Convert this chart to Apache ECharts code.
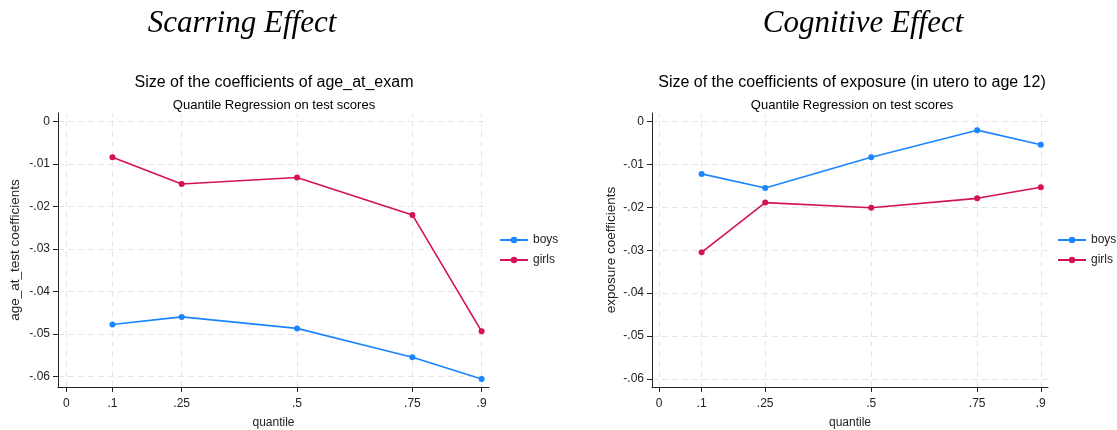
<!DOCTYPE html>
<html>
<head>
<meta charset="utf-8">
<title>Scarring and cognitive effects</title>
<script src="https://cdn.jsdelivr.net/npm/echarts@6/dist/echarts.min.js"></script>
<style>
  html, body { margin: 0; padding: 0; background: #fff; }
  #chart { width: 1117px; height: 430px; }
</style>
</head>
<body>
<div id="chart"></div>
<script>
// quantiles on the x axis
const quantiles = [0.1, 0.25, 0.5, 0.75, 0.9]

// coefficients of age_at_exam (left panel)
const scarBoys = [-0.0478, -0.0460, -0.0487, -0.0555, -0.0606]
const scarGirls = [-0.0084, -0.0147, -0.0132, -0.0220, -0.0494]

// coefficients of exposure (right panel)
const cogBoys = [-0.0122, -0.0155, -0.0083, -0.0020, -0.0054]
const cogGirls = [-0.0305, -0.0189, -0.0201, -0.0179, -0.0153]

// tick labels
const xTicks = [0, 0.1, 0.25, 0.5, 0.75, 0.9]
const yTicks = [0, -0.01, -0.02, -0.03, -0.04, -0.05, -0.06]

const BOYS = '#1a85ff'
const GIRLS = '#d41159'
const FONT = 'Liberation Sans, Arial, sans-serif'
const INK = '#222'

const chart = echarts.init(document.getElementById('chart'), null, { renderer: 'canvas' })

// stata style numbers: .25, -.01, 0
function stataNum (v) {
  return v === 0 ? '0' : String(v).replace('0.', '.')
}

function pairs (ys) {
  return quantiles.map((q, i) => [q, ys[i]])
}

function xAxisFor (idx, min, max) {
  return {
    type: 'value',
    gridIndex: idx,
    min: min,
    max: max,
    name: 'quantile',
    nameLocation: 'middle',
    nameGap: 30,
    nameTextStyle: { fontFamily: FONT, fontSize: 12, color: INK },
    axisLine: { onZero: false, lineStyle: { color: INK, width: 1 } },
    axisTick: { show: true, length: 5, customValues: xTicks, lineStyle: { color: INK } },
    axisLabel: { customValues: xTicks, formatter: stataNum, margin: 11, fontFamily: FONT, fontSize: 12, color: INK },
    splitLine: { show: false }
  }
}

function yAxisFor (idx, min, max, name, gap) {
  return {
    type: 'value',
    gridIndex: idx,
    min: min,
    max: max,
    name: name,
    nameLocation: 'middle',
    nameGap: gap,
    nameTextStyle: { fontFamily: FONT, fontSize: 13.5, color: INK },
    axisLine: { show: true, onZero: false, lineStyle: { color: INK, width: 1 } },
    axisTick: { show: true, length: 5, customValues: yTicks, lineStyle: { color: INK } },
    axisLabel: { customValues: yTicks, formatter: stataNum, margin: 8, fontFamily: FONT, fontSize: 12, color: INK },
    splitLine: { show: false }
  }
}

// dashed grid lines at the tick positions, drawn under the data
function gridSeries (idx) {
  return {
    name: 'gridlines',
    type: 'line',
    xAxisIndex: idx,
    yAxisIndex: idx,
    data: [],
    z: 0,
    silent: true,
    markLine: {
      z: 0,
      silent: true,
      symbol: ['none', 'none'],
      label: { show: false },
      lineStyle: { type: [6, 4], color: '#e6e6e6', width: 1 },
      data: xTicks.map(v => ({ xAxis: v })).concat(yTicks.map(v => ({ yAxis: v })))
    }
  }
}

function lineSeries (idx, name, ys, color) {
  return {
    name: name,
    type: 'line',
    xAxisIndex: idx,
    yAxisIndex: idx,
    data: pairs(ys),
    z: 10,
    symbol: 'circle',
    symbolSize: 6,
    lineStyle: { color: color, width: 1.6 },
    itemStyle: { color: color, borderWidth: 0 }
  }
}

function legendAt (left) {
  return {
    data: ['boys', 'girls'],
    orient: 'vertical',
    left: left,
    top: 234,
    padding: 0,
    itemWidth: 28,
    itemHeight: 8,
    itemGap: 8,
    textStyle: { fontFamily: FONT, fontSize: 12, color: INK }
  }
}

function label (text, x, y, size, serif) {
  return {
    type: 'text',
    x: x,
    y: y,
    silent: true,
    style: {
      text: text,
      textAlign: 'center',
      textVerticalAlign: 'middle',
      font: (serif ? 'italic ' : '') + size + 'px ' + (serif ? '"Liberation Serif", "Times New Roman", serif' : FONT),
      fill: '#000'
    }
  }
}

const option = {
  animation: false,
  backgroundColor: '#fff',
  grid: [
    { left: 58, top: 113, width: 431, height: 274, outerBoundsMode: 'none' },
    { left: 652, top: 113, width: 396, height: 274, outerBoundsMode: 'none' }
  ],
  xAxis: [
    xAxisFor(0, -0.018, 0.916),
    xAxisFor(1, -0.017, 0.917)
  ],
  yAxis: [
    yAxisFor(0, -0.0625, 0.002, 'age_at_test coefficients', 36),
    yAxisFor(1, -0.0619, 0.002, 'exposure coefficients', 34)
  ],
  legend: [legendAt(499), legendAt(1057)],
  graphic: [
    label('Scarring Effect', 242, 24, 31, true),
    label('Cognitive Effect', 863, 24, 31, true),
    label('Size of the coefficients of age_at_exam', 274, 83, 16, false),
    label('Quantile Regression on test scores', 274, 105, 13, false),
    label('Size of the coefficients of exposure (in utero to age 12)', 852, 83, 16, false),
    label('Quantile Regression on test scores', 852, 105, 13, false)
  ],
  series: [
    gridSeries(0),
    gridSeries(1),
    lineSeries(0, 'boys', scarBoys, BOYS),
    lineSeries(0, 'girls', scarGirls, GIRLS),
    lineSeries(1, 'boys', cogBoys, BOYS),
    lineSeries(1, 'girls', cogGirls, GIRLS)
  ]
}

chart.setOption(option)
</script>
</body>
</html>
